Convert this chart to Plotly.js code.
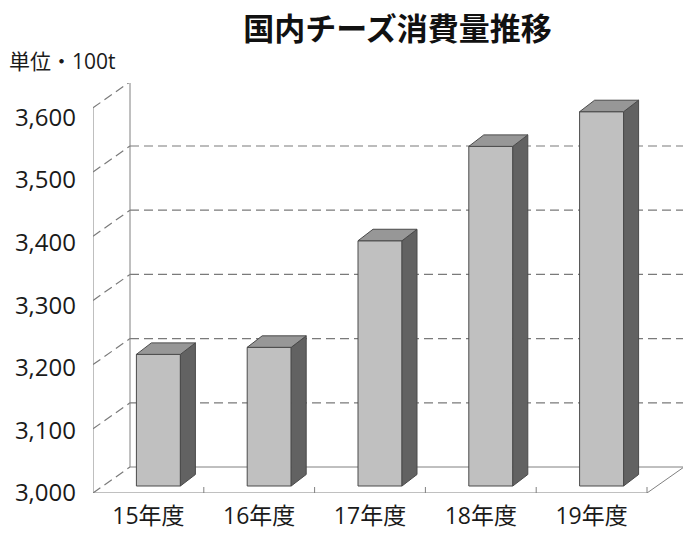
<!DOCTYPE html>
<html>
<head>
<meta charset="utf-8">
<script src="https://cdn.plot.ly/plotly-3.0.1.min.js"></script>
<style>html,body{margin:0;padding:0;background:#fff;}#chart{width:696px;height:537px;}</style>
</head>
<body>
<div id="chart"></div>
<script>
// ---- data ----
const categories = ['15年度', '16年度', '17年度', '18年度', '19年度'];
const values = [3205, 3216, 3382, 3529, 3583];
const yTicks = [3000, 3100, 3200, 3300, 3400, 3500, 3600];
const titleText = '国内チーズ消費量推移';
const unitText = '単位・100t';

// ---- pseudo-3D geometry (pixel sizes converted to axis units) ----
const PX_PER_CAT = 110.8;
const PX_PER_100 = 64.2;
const ux = p => p / PX_PER_CAT;
const uy = p => p * 100 / PX_PER_100;
const Y0 = yTicks[0];
const YTOP = yTicks[yTicks.length - 1];
const DX = ux(37), DY = uy(26);          // full depth of the chart box
const FDX = ux(10), FDY = uy(7);         // front plane of the bars
const BDX = ux(15), BDY = uy(11.5);      // depth of each bar
const BW = ux(44);                       // bar width
const XL = -0.5, XR = categories.length - 0.5;

const idx = categories.map((c, i) => i);
const base = Y0 + FDY;

const frontTrace = {
  type: 'bar',
  x: idx.map(i => i + FDX),
  y: values.map(v => v - Y0),
  base: values.map(() => base),
  width: BW,
  marker: {color: '#c0c0c0', line: {color: '#4a4a4a', width: 1}},
  hoverinfo: 'skip',
  showlegend: false
};

const topX = [], topY = [], sideX = [], sideY = [];
idx.forEach(i => {
  const x0 = i + FDX - BW / 2, x1 = i + FDX + BW / 2;
  const yt = values[i] + FDY;
  topX.push(x0, x1, x1 + BDX, x0 + BDX, x0, null);
  topY.push(yt, yt, yt + BDY, yt + BDY, yt, null);
  sideX.push(x1, x1, x1 + BDX, x1 + BDX, x1, null);
  sideY.push(base, yt, yt + BDY, base + BDY, base, null);
});
const topTrace = {type: 'scatter', mode: 'lines', x: topX, y: topY, fill: 'toself',
  fillcolor: '#979797', line: {color: '#4a4a4a', width: 1}, hoverinfo: 'skip', showlegend: false};
const sideTrace = {type: 'scatter', mode: 'lines', x: sideX, y: sideY, fill: 'toself',
  fillcolor: '#626262', line: {color: '#4a4a4a', width: 1}, hoverinfo: 'skip', showlegend: false};
const labelAxisTrace = {type: 'scatter', mode: 'markers', x: [0], y: [Y0], yaxis: 'y2',
  marker: {opacity: 0}, hoverinfo: 'skip', showlegend: false};

// ---- box lines ----
const solid = {color: '#808080', width: 1};
const dashed = {color: '#7a7a7a', width: 1.2, dash: '9px,5px'};
const shapes = [];
const line = (x0, y0, x1, y1, l) => shapes.push({type: 'line', xref: 'x', yref: 'y',
  x0, y0, x1, y1, line: l, layer: 'below'});
yTicks.forEach((v, k) => {
  line(XL, v, XL + DX, v + DY, dashed);                       // left wall
  line(XL + DX, v + DY, XR + DX, v + DY, k === 0 ? solid : dashed); // back wall
});
line(XL, Y0, XL, YTOP, solid);
line(XL + DX, Y0 + DY, XL + DX, YTOP + DY, solid);
line(XR + DX, Y0 + DY, XR + DX, YTOP + DY, solid);
line(XL, Y0, XR, Y0, solid);
line(XR, Y0, XR + DX, Y0 + DY, solid);
idx.forEach(i => line(i + 0.5, Y0, i + 0.5, Y0 + uy(6), solid));

const font = '"Open Sans", "Noto Sans CJK JP", sans-serif';
const cjk = '"Noto Sans CJK JP", "Noto Sans", sans-serif';
const layout = {
  width: 696, height: 537,
  margin: {l: 93, r: 13, t: 83, b: 44},
  paper_bgcolor: '#ffffff', plot_bgcolor: '#ffffff',
  font: {family: font, color: '#1a1a1a'},
  title: {text: titleText, font: {family: cjk, size: 31, weight: 'bold', color: '#111'},
    x: 397.5 / 696, xref: 'container', xanchor: 'center',
    y: 1 - 29 / 537, yref: 'container', yanchor: 'middle'},
  xaxis: {range: [XL, XL + 590 / PX_PER_CAT], tickvals: idx, ticktext: categories,
    showgrid: false, zeroline: false, showline: false, ticks: '',
    tickfont: {size: 23, family: font, color: '#1a1a1a'}, ticklabelstandoff: 7, fixedrange: true},
  yaxis: {range: [Y0, Y0 + 410 * 100 / PX_PER_100], showgrid: false, zeroline: false,
    showline: false, showticklabels: false, ticks: '', fixedrange: true},
  yaxis2: {overlaying: 'y', side: 'left', range: [Y0, Y0 + 410 * 100 / 62.6],
    tickvals: yTicks, tickformat: ',d', showgrid: false, zeroline: false, showline: false,
    ticks: '', tickfont: {size: 24, family: font, color: '#1a1a1a'}, ticklabelstandoff: 16,
    fixedrange: true},
  shapes: shapes,
  annotations: [{text: unitText, xref: 'paper', yref: 'paper',
    x: (7 - 93) / 590, y: (493 - 61) / 410, xanchor: 'left', yanchor: 'middle',
    showarrow: false, font: {size: 21, family: font, color: '#1a1a1a'}}],
  showlegend: false
};

Plotly.newPlot('chart', [frontTrace, sideTrace, topTrace, labelAxisTrace], layout,
  {displayModeBar: false, staticPlot: true});
</script>
</body>
</html>
